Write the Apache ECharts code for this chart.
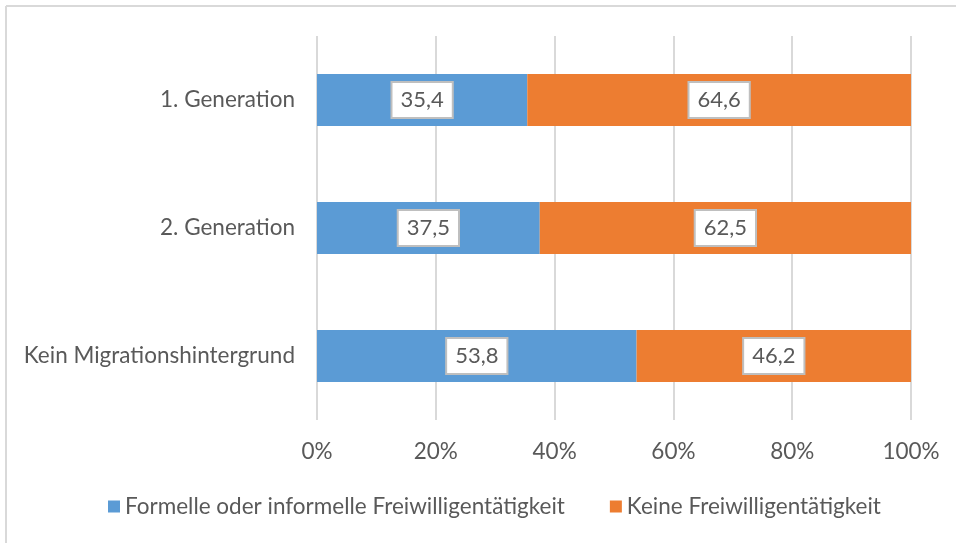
<!DOCTYPE html>
<html><head><meta charset="utf-8">
<script src="https://cdn.jsdelivr.net/npm/echarts@6/dist/echarts.min.js"></script>
<style>html,body{margin:0;padding:0;background:#fff}#c{width:956px;height:543px}</style>
</head><body><div id="c"></div>
<script>
const categories = ['1. Generation', '2. Generation', 'Kein Migrationshintergrund'];
const seriesNames = ['Formelle oder informelle Freiwilligentätigkeit', 'Keine Freiwilligentätigkeit'];
const volunteer = [35.4, 37.5, 53.8];
const noVolunteer = [64.6, 62.5, 46.2];
const tickLabels = ['0%', '20%', '40%', '60%', '80%', '100%'];

const FONT = 'Lato';
const TXT = '#595959';
const FS = 22.5;
const chart = echarts.init(document.getElementById('c'));
const labelCfg = {
  show: true, position: 'inside',
  formatter: p => p.value.toFixed(1).replace('.', ','),
  fontFamily: FONT, fontSize: 22, color: TXT,
  backgroundColor: '#fff', borderColor: '#bfbfbf', borderWidth: 2,
  padding: [7, 8, 5, 8]
};
chart.setOption({
  animation: false,
  graphic: [
    { type: 'line', shape: { x1: 6, y1: 6, x2: 960, y2: 6 }, style: { stroke: '#d9d9d9', lineWidth: 2 } },
    { type: 'line', shape: { x1: 6, y1: 6, x2: 6, y2: 560 }, style: { stroke: '#d9d9d9', lineWidth: 2 } }
  ],
  grid: { left: 317, right: 45, top: 36, height: 384 },
  legend: {
    bottom: 20, left: 103, itemWidth: 12, itemHeight: 12, itemGap: 45,
    icon: 'rect',
    textStyle: { fontFamily: FONT, fontSize: FS, color: TXT }
  },
  xAxis: {
    type: 'value', min: 0, max: 100, interval: 20,
    axisLabel: { formatter: v => tickLabels[v / 20], fontFamily: FONT, fontSize: FS, color: TXT, margin: 20 },
    splitLine: { lineStyle: { color: '#d9d9d9', width: 2 } },
    axisLine: { show: false }, axisTick: { show: false }
  },
  yAxis: {
    type: 'category', data: categories, inverse: true,
    axisLine: { show: false }, axisTick: { show: false },
    axisLabel: { fontFamily: FONT, fontSize: FS, color: TXT, margin: 22 }
  },
  series: [
    { name: seriesNames[0], type: 'bar', stack: 's', data: volunteer, barWidth: 52, itemStyle: { color: '#5b9bd5' }, label: labelCfg },
    { name: seriesNames[1], type: 'bar', stack: 's', data: noVolunteer, barWidth: 52, itemStyle: { color: '#ed7d31' }, label: labelCfg }
  ]
});
</script></body></html>
